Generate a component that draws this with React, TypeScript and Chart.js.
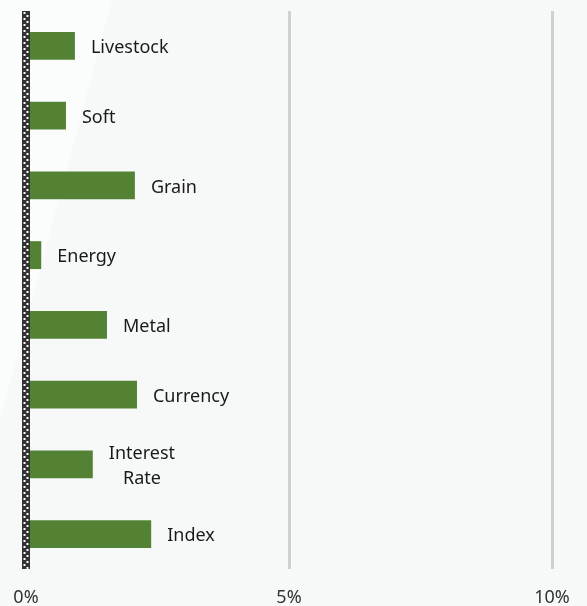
import React, { useEffect, useRef } from "react";
import { Chart, registerables } from "chart.js";
Chart.register(...registerables);

const categories: (string | string[])[] = ["Livestock", "Soft", "Grain", "Energy", "Metal", "Currency", ["Interest", "Rate"], "Index"];
const values: number[] = [0.93, 0.76, 2.07, 0.29, 1.54, 2.11, 1.27, 2.38];
const xTicks: number[] = [0, 5, 10];

const FONT = "'Noto Sans', 'Open Sans', sans-serif";

const bgPlugin = {
  id: "bgPlugin",
  beforeDraw(chart: any) {
    const { ctx, width, height } = chart;
    ctx.save();
    ctx.fillStyle = "#f7f9f9";
    ctx.fillRect(0, 0, width, height);
    ctx.fillStyle = "#fbfcfc";
    ctx.beginPath();
    ctx.moveTo(0, 0);
    ctx.lineTo(112, 0);
    ctx.lineTo(0, 420);
    ctx.closePath();
    ctx.fill();
    ctx.restore();
  },
};

const zeroLinePlugin = {
  id: "zeroLine",
  afterDatasetsDraw(chart: any) {
    const { ctx, chartArea, scales } = chart;
    const x = scales.x.getPixelForValue(0);
    ctx.save();
    ctx.strokeStyle = "#333333";
    ctx.lineWidth = 8;
    ctx.beginPath();
    ctx.moveTo(x, chartArea.top);
    ctx.lineTo(x, chartArea.bottom);
    ctx.stroke();
    ctx.strokeStyle = "#ffffff";
    ctx.lineWidth = 2;
    ctx.setLineDash([2, 4]);
    ctx.beginPath();
    ctx.moveTo(x - 1.5, chartArea.top + 1);
    ctx.lineTo(x - 1.5, chartArea.bottom);
    ctx.stroke();
    ctx.lineDashOffset = 3;
    ctx.beginPath();
    ctx.moveTo(x + 1.5, chartArea.top + 1);
    ctx.lineTo(x + 1.5, chartArea.bottom);
    ctx.stroke();
    ctx.restore();
  },
};

const labelPlugin = {
  id: "barLabels",
  afterDatasetsDraw(chart: any) {
    const { ctx } = chart;
    const meta = chart.getDatasetMeta(0);
    ctx.save();
    ctx.font = `18px ${FONT}`;
    ctx.fillStyle = "#1a1a1a";
    ctx.textBaseline = "middle";
    meta.data.forEach((bar: any, i: number) => {
      const lbl = categories[i];
      const lines = Array.isArray(lbl) ? lbl : [lbl];
      const maxW = Math.max(...lines.map((l) => ctx.measureText(l).width));
      const cx = bar.x + 16 + maxW / 2;
      const lh = 25;
      const startY = bar.y + 2 - ((lines.length - 1) * lh) / 2;
      ctx.textAlign = "center";
      lines.forEach((l, j) => ctx.fillText(l, cx, startY + j * lh));
    });
    ctx.restore();
  },
};

export default function App() {
  const ref = useRef<HTMLCanvasElement>(null);
  useEffect(() => {
    const chart = new Chart(ref.current!, {
      type: "bar",
      data: {
        labels: categories as any,
        datasets: [
          {
            data: values,
            backgroundColor: "#548235",
            borderWidth: 0,
            barPercentage: 0.8,
            categoryPercentage: 0.5,
          },
        ],
      },
      options: {
        indexAxis: "y",
        animation: false,
        responsive: false,
        layout: { padding: { top: 11, right: 0, left: 0, bottom: 0 } },
        plugins: { legend: { display: false }, tooltip: { enabled: false } },
        scales: {
          x: {
            min: 0,
            max: 10,
            afterBuildTicks: (axis: any) => {
              axis.ticks = xTicks.map((v) => ({ value: v }));
            },
            afterFit: (axis: any) => {
              axis.height = 37;
              axis.paddingLeft = 26;
              axis.paddingRight = 35;
            },
            grid: { color: "#d0d0d0", lineWidth: 3, drawTicks: false },
            border: { display: false },
            ticks: {
              padding: 18,
              color: "#333333",
              font: { family: FONT, size: 18 },
              callback: (v: any) => `${v}%`,
            },
          },
          y: { display: false },
        },
      },
      plugins: [bgPlugin, zeroLinePlugin, labelPlugin],
    });
    return () => chart.destroy();
  }, []);
  return (
    <div style={{ position: "fixed", left: 0, top: 0, width: 587, height: 606 }}>
      <canvas ref={ref} width={587} height={606} style={{ display: "block" }} />
    </div>
  );
}
